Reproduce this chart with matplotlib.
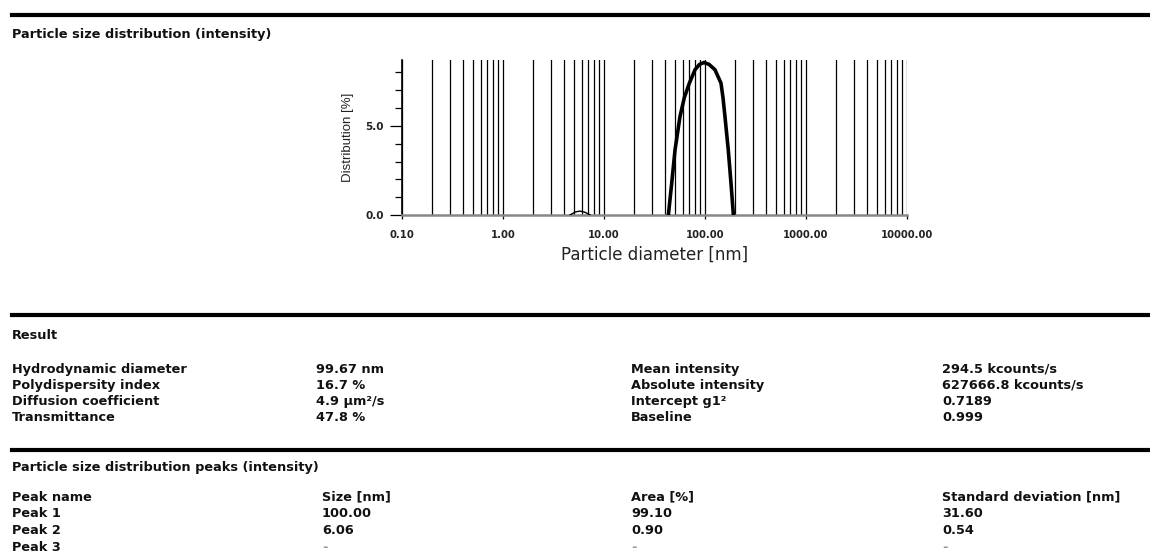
import matplotlib.pyplot as plt
from matplotlib.ticker import LogLocator, FixedLocator, NullFormatter

# Intensity distribution (size in nm, distribution in %)
peak1_size = [43.4, 46.8, 50.5, 56.5, 62.5, 70, 79.6, 88, 97.7, 110, 125.6, 144, 151, 157.7, 170, 180.9, 191]
peak1_dist = [0.0, 1.78, 3.65, 5.52, 6.6, 7.4, 8.15, 8.45, 8.56, 8.45, 8.15, 7.4, 6.55, 5.52, 3.65, 1.78, 0.0]
peak2_size = [4.6, 5.2, 5.8, 6.5, 7.3]
peak2_dist = [0.0, 0.17, 0.22, 0.15, 0.0]

x_ticks = [0.1, 1, 10, 100, 1000, 10000]
x_tick_labels = ["0.10", "1.00", "10.00", "100.00", "1000.00", "10000.00"]
y_ticks = [0, 5]
y_tick_labels = ["0.0", "5.0"]

result_names_a = ["Hydrodynamic diameter", "Polydispersity index", "Diffusion coefficient", "Transmittance"]
result_values_a = ["99.67 nm", "16.7 %", "4.9 µm²/s", "47.8 %"]
result_names_b = ["Mean intensity", "Absolute intensity", "Intercept g1²", "Baseline"]
result_values_b = ["294.5 kcounts/s", "627666.8 kcounts/s", "0.7189", "0.999"]

peak_headers = ["Peak name", "Size [nm]", "Area [%]", "Standard deviation [nm]"]
peak_names = ["Peak 1", "Peak 2", "Peak 3"]
peak_sizes = ["100.00", "6.06", "-"]
peak_areas = ["99.10", "0.90", "-"]
peak_sds = ["31.60", "0.54", "-"]

W, H = 1150, 552
fig = plt.figure(figsize=(W / 100, H / 100), dpi=100)


def txt(x, y, s, **kw):
    # y is the visual centre of the capitals, in pixels from the top
    kw.setdefault("fontsize", 9.3)
    kw.setdefault("fontweight", "bold")
    kw.setdefault("color", "#111111")
    fig.text(x / W, 1 - (y + 4.6) / H, s, va="baseline", ha="left", **kw)


def rule(y):
    fig.add_artist(plt.Line2D([12 / W, 1.0], [1 - y / H] * 2, color="black", lw=3.0))


# ---- chart ----
ax = fig.add_axes([402 / W, 1 - 215 / H, (907 - 402) / W, (215 - 60) / H])
ax.plot(peak1_size, peak1_dist, color="black", lw=2.6, solid_joinstyle="round", zorder=3)
ax.plot(peak2_size, peak2_dist, color="black", lw=1.0, zorder=3)
ax.set_xscale("log")
ax.set_xlim(0.1, 10000)
ax.set_ylim(0, 8.7)

ax.xaxis.set_major_locator(FixedLocator(x_ticks))
ax.set_xticklabels(x_tick_labels, fontsize=7.2, fontweight="bold", color="#222222")
ax.xaxis.set_minor_locator(LogLocator(base=10, subs=range(2, 10)))
ax.xaxis.set_minor_formatter(NullFormatter())
ax.grid(True, which="both", axis="x", color="black", lw=0.9)
ax.tick_params(axis="x", which="major", length=3, width=0.9, pad=8)
ax.tick_params(axis="x", which="minor", length=0)

ax.set_yticks(y_ticks)
ax.set_yticklabels(y_tick_labels, fontsize=7.5, fontweight="bold", color="#222222")
ax.yaxis.set_minor_locator(FixedLocator([1, 2, 3, 4, 6, 7, 8]))
ax.tick_params(axis="y", which="major", length=9, width=0.9, pad=4)
ax.tick_params(axis="y", which="minor", length=5, width=0.9)

for side in ["top", "right"]:
    ax.spines[side].set_visible(False)
ax.spines["left"].set_linewidth(1.2)
ax.spines["bottom"].set_color("#888888")
ax.spines["bottom"].set_linewidth(1.8)

ax.set_xlabel("Particle diameter [nm]", fontsize=12, color="#222222", labelpad=4)
ax.set_ylabel("Distribution [%]", fontsize=9.5, color="#222222", labelpad=8,
              family=["Liberation Sans", "DejaVu Sans"])

# ---- header ----
rule(15)
txt(12, 33, "Particle size distribution (intensity)")

# ---- result block ----
rule(315)
txt(12, 334, "Result")
row_y = [368, 384, 400, 416]
for i, y in enumerate(row_y):
    txt(12, y, result_names_a[i])
    txt(316, y, result_values_a[i])
    txt(631, y, result_names_b[i])
    txt(942, y, result_values_b[i])

# ---- peaks block ----
rule(450)
txt(12, 466, "Particle size distribution peaks (intensity)")
col_x = [12, 322, 631, 942]
for j, head in enumerate(peak_headers):
    txt(col_x[j], 496, head)
peak_y = [512, 529, 546]
for i, y in enumerate(peak_y):
    txt(col_x[0], y, peak_names[i])
    c = "#999999" if peak_sizes[i] == "-" else "#111111"
    txt(col_x[1], y, peak_sizes[i], color=c)
    txt(col_x[2], y, peak_areas[i], color=c)
    txt(col_x[3], y, peak_sds[i], color=c)

fig.savefig("out.png", dpi=100)
